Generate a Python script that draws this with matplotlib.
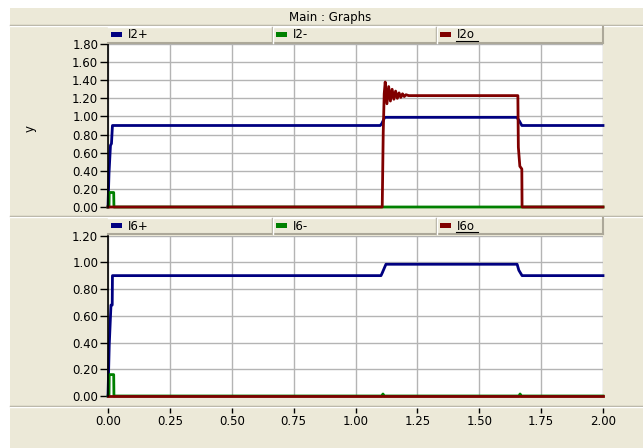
import numpy as np
import matplotlib.pyplot as plt
from matplotlib.patches import Rectangle
from matplotlib.lines import Line2D

# Time / value breakpoints for each trace (seconds, per-unit)
i2_pos_t = [0.0, 0.004, 0.010, 0.014, 0.018, 1.100, 1.106, 1.118, 1.652, 1.662, 1.672, 2.0]
i2_pos_v = [0.0, 0.37, 0.68, 0.70, 0.90, 0.90, 0.92, 0.99, 0.99, 0.95, 0.90, 0.90]

i2_neg_t = [0.0, 0.004, 0.005, 0.023, 0.024, 2.0]
i2_neg_v = [0.0, 0.0, 0.16, 0.16, 0.0, 0.0]

i2_zero_t = [0.0, 1.108, 1.112, 1.116, 1.120, 1.127, 1.134, 1.141, 1.148, 1.155, 1.162,
             1.169, 1.176, 1.183, 1.190, 1.197, 1.204, 1.215, 1.656, 1.658, 1.664,
             1.672, 1.673, 2.0]
i2_zero_v = [0.0, 0.0, 0.82, 1.25, 1.38, 1.14, 1.33, 1.17, 1.30, 1.19, 1.28,
             1.20, 1.26, 1.21, 1.25, 1.22, 1.24, 1.23, 1.23, 0.66, 0.45,
             0.42, 0.0, 0.0]

i6_pos_t = [0.0, 0.005, 0.012, 0.017, 0.018, 1.103, 1.108, 1.123, 1.653, 1.660, 1.673, 2.0]
i6_pos_v = [0.0, 0.38, 0.68, 0.68, 0.90, 0.90, 0.92, 0.985, 0.985, 0.94, 0.90, 0.90]

i6_neg_t = [0.0, 0.004, 0.005, 0.023, 0.024, 1.106, 1.111, 1.116, 1.660, 1.665, 1.670, 2.0]
i6_neg_v = [0.0, 0.0, 0.16, 0.16, 0.0, 0.0, 0.015, 0.0, 0.0, 0.015, 0.0, 0.0]

i6_zero_t = [0.0, 2.0]
i6_zero_v = [0.0, 0.0]

x_ticks = [0.0, 0.25, 0.50, 0.75, 1.00, 1.25, 1.50, 1.75, 2.00]
top_yticks = [0.0, 0.2, 0.4, 0.6, 0.8, 1.0, 1.2, 1.4, 1.6, 1.8]
bottom_yticks = [0.0, 0.2, 0.4, 0.6, 0.8, 1.0, 1.2]

top_names = ["I2+", "I2-", "I2o"]
bottom_names = ["I6+", "I6-", "I6o"]

blue = '#000080'
green = '#008000'
red = '#800000'
beige = '#ECE9D8'
dark_edge = '#ACA899'
font_size = 8.5

W, H = 643, 448


def fx(px):
    return px / W


def fy(py):
    return 1 - py / H


def add_box(fig, x0, y0, x1, y1, color, zorder=0):
    fig.patches.append(Rectangle((fx(x0), fy(y1)), fx(x1) - fx(x0), fy(y0) - fy(y1),
                                 transform=fig.transFigure, facecolor=color,
                                 edgecolor='none', zorder=zorder))


def add_line(fig, xs, ys, color, lw=1.0, zorder=1):
    fig.lines.append(Line2D([fx(x) for x in xs], [fy(y) for y in ys],
                            transform=fig.transFigure, color=color, lw=lw, zorder=zorder))


def add_legend_strip(fig, y0, y1, names):
    # Header strip with three series buttons
    add_box(fig, 108, y0, 603, y1, beige, zorder=2)
    add_line(fig, [108, 603], [y0, y0], 'white', zorder=3)
    add_line(fig, [108, 603], [y1, y1], dark_edge, lw=1.5, zorder=3)
    add_line(fig, [603, 603], [y0, y1], dark_edge, lw=1.5, zorder=3)
    for x_div in [272, 436]:
        add_line(fig, [x_div, x_div], [y0, y1], dark_edge, zorder=3)
        add_line(fig, [x_div + 1, x_div + 1], [y0, y1], 'white', zorder=3)

    patch_x = [111, 276, 440]
    colors = [blue, green, red]
    for index in range(3):
        px = patch_x[index]
        add_box(fig, px, y0 + 5, px + 11, y0 + 10, colors[index], zorder=4)
        fig.text(fx(px + 17), fy(y0 + 8), names[index], fontsize=font_size,
                 va='center', ha='left', zorder=4)
    # Last entry is underlined
    add_line(fig, [456, 478], [y0 + 14, y0 + 14], 'black', lw=0.8, zorder=4)


def style_axis(axis, y_ticks, y_max):
    axis.set_xlim(0, 2.0)
    axis.set_ylim(0, y_max)
    axis.set_xticks(x_ticks)
    axis.set_yticks(y_ticks)
    axis.set_yticklabels(["%.2f" % v for v in y_ticks])
    axis.grid(True, color='#B4B4B4', lw=1.0)
    axis.set_axisbelow(True)
    for side in ['top', 'right', 'bottom']:
        axis.spines[side].set_visible(False)
    axis.spines['left'].set_color('black')
    axis.spines['left'].set_linewidth(1.2)
    axis.tick_params(axis='y', direction='out', length=5.5, width=1, pad=1.5,
                     labelsize=font_size, colors='black')
    axis.set_facecolor('white')


figure_1 = plt.figure(figsize=(W / 100, H / 100), dpi=100)
figure_1.patch.set_facecolor('white')

# Window background and title bar
add_box(figure_1, 10, 8, 643, 448, beige, zorder=-2)
figure_1.text(fx(330), fy(17), "Main : Graphs", fontsize=font_size, ha='center', va='center')
add_line(figure_1, [10, 643], [25, 25], dark_edge, zorder=-1)
add_line(figure_1, [10, 643], [26, 26], 'white', zorder=-1)
add_line(figure_1, [10, 643], [216, 216], dark_edge, zorder=-1)
add_line(figure_1, [10, 643], [217, 217], 'white', zorder=-1)
add_line(figure_1, [10, 643], [406, 406], dark_edge, zorder=-1)
add_line(figure_1, [10, 643], [407, 407], 'white', zorder=-1)

# Top graph
axis_1 = figure_1.add_axes([fx(108), fy(207), fx(603) - fx(108), fy(44) - fy(207)])
style_axis(axis_1, top_yticks, 1.8)
axis_1.tick_params(axis='x', length=0, labelbottom=False)
axis_1.plot(i2_pos_t, i2_pos_v, color=blue, lw=2, clip_on=False)
axis_1.plot(i2_neg_t, i2_neg_v, color=green, lw=2, clip_on=False)
axis_1.plot(i2_zero_t, i2_zero_v, color=red, lw=2, clip_on=False)
figure_1.text(fx(30), fy(128), "y", fontsize=font_size, rotation=90, ha='center', va='center')

# Bottom graph
axis_2 = figure_1.add_axes([fx(108), fy(396), fx(603) - fx(108), fy(235.5) - fy(396)])
style_axis(axis_2, bottom_yticks, 1.2)
axis_2.spines['bottom'].set_position(('outward', 8.5))
axis_2.set_xticklabels(["%.2f" % v for v in x_ticks])
axis_2.tick_params(axis='x', direction='out', length=3.5, width=1, pad=2,
                   labelsize=font_size, colors='black')
axis_2.plot(i6_pos_t, i6_pos_v, color=blue, lw=2, clip_on=False)
axis_2.plot(i6_neg_t, i6_neg_v, color=green, lw=2, clip_on=False)
axis_2.plot(i6_zero_t, i6_zero_v, color=red, lw=2, clip_on=False)

add_legend_strip(figure_1, 27, 43, top_names)
add_legend_strip(figure_1, 218, 234, bottom_names)

plt.savefig("out.png", dpi=100, facecolor=figure_1.get_facecolor())
